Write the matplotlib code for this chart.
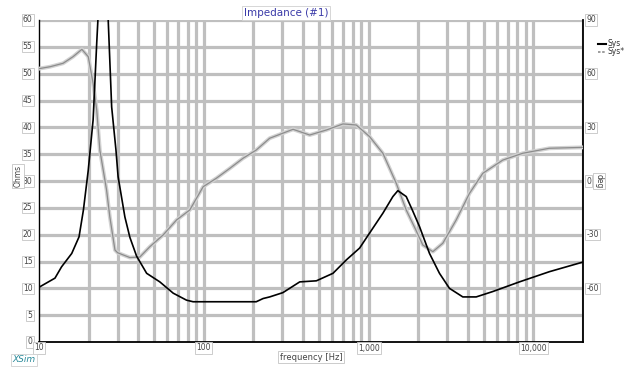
import numpy as np
import matplotlib
matplotlib.use("Agg")
import matplotlib.pyplot as plt
from matplotlib.ticker import NullLocator
from matplotlib.transforms import offset_copy

# Impedance magnitude (Ohms) of the system "Sys"
freq_mag = [10.0, 12.5, 13.7, 15.8, 17.5, 18.6, 19.9, 21.3, 22.4, 24.6, 26.3,
            27.6, 29.3, 30.2, 33.2, 35.6, 39.1, 45.0, 54.1, 65.2, 78.5, 86.1,
            208, 229, 251, 302, 382, 482, 608, 733, 882, 1014, 1221, 1404,
            1505, 1692, 1848, 2037, 2342, 2692, 3095, 3730, 4497, 5667, 8226,
            12500, 20000]
ohms = [10.2, 11.9, 14.0, 16.5, 19.6, 24.6, 32.0, 41.4, 55.7, 80.0, 60.0,
        43.8, 35.8, 30.8, 23.3, 19.5, 16.0, 12.8, 11.2, 9.1, 7.8, 7.5,
        7.5, 8.1, 8.4, 9.2, 11.2, 11.4, 12.8, 15.3, 17.5, 20.3, 24.0, 27.1,
        28.2, 27.1, 24.5, 21.5, 16.5, 12.8, 10.0, 8.4, 8.4, 9.4, 11.2,
        13.1, 14.9]

# Impedance phase (degrees) of "Sys*"
freq_ph = [10.0, 11.7, 14.0, 16.1, 18.2, 19.9, 21.3, 22.4, 23.4, 25.7, 26.9,
           28.9, 30.0, 35.6, 40.9, 47.1, 56.6, 68.3, 82.2, 99.1, 119, 144,
           173, 208, 251, 348, 439, 554, 699, 842, 1014, 1221, 1472, 1692,
           1927, 2133, 2455, 2820, 3400, 4095, 4932, 6521, 8610, 12500, 20000]
phase = [62.8, 63.9, 65.8, 69.5, 73.6, 69.5, 54.6, 39.7, 17.3, -5.0, -20.0,
         -38.6, -40.1, -42.8, -42.5, -36.7, -30.2, -21.8, -16.2, -3.2, 1.5,
         7.1, 12.7, 17.3, 23.9, 28.9, 25.7, 28.5, 31.9, 31.3, 24.8, 15.5,
         -1.3, -16.2, -27.0, -35.8, -39.5, -34.8, -21.8, -6.9, 4.3, 11.7,
         15.5, 18.3, 18.8]

ohm_ticks = [0, 5, 10, 15, 20, 25, 30, 35, 40, 45, 50, 55, 60]
deg_ticks = [-60, -30, 0, 30, 60, 90]
freq_ticks = [10, 100, 1000, 10000]
freq_tick_labels = ["10", "100", "1,000", "10,000"]

W, H = 635, 369
fig = plt.figure(figsize=(W / 100, H / 100), dpi=100)
fig.patch.set_facecolor("white")
left, right, top, bottom = 39, 583, 20, 342
ax = fig.add_axes([left / W, 1 - bottom / H, (right - left) / W, (bottom - top) / H])
ax.set_xscale("log")
ax.set_xlim(10, 20000)
ax.set_ylim(0, 60)

grid_col = "#bfbfbf"
# vertical grid at every 1..9 step of each decade
vgrid = [m * 10 ** d for d in range(1, 5) for m in range(1, 10)]
vgrid = [v for v in vgrid if 10 < v <= 20000]
for v in vgrid:
    ax.axvline(v, color=grid_col, lw=2.3, zorder=1)
for h in ohm_ticks[1:]:
    ax.axhline(h, color=grid_col, lw=2.3, zorder=1)

ax.spines["top"].set_visible(False)
ax.spines["left"].set_color("black")
ax.spines["left"].set_linewidth(1.0)
ax.spines["right"].set_color("black")
ax.spines["right"].set_linewidth(1.3)
ax.spines["bottom"].set_linestyle((0, (1.5, 1)))
ax.spines["bottom"].set_linewidth(1.3)

# phase on its own degree scale
ax2 = ax.twinx()
ax2.set_ylim(-90, 90)
for s in ax2.spines.values():
    s.set_visible(False)
ax2.plot(freq_ph, phase, color="#d2d2d2", lw=2.8, zorder=2, solid_capstyle="round")
ax2.plot(freq_ph, phase, color="#8c8c8c", lw=0.9, zorder=3)

# magnitude drawn on top of the phase
ax3 = ax.twinx()
ax3.set_ylim(0, 60)
for s in ax3.spines.values():
    s.set_visible(False)
ax3.plot(freq_mag, ohms, color="black", lw=1.2, zorder=4)

for a in (ax, ax2, ax3):
    a.xaxis.set_major_locator(NullLocator())
    a.xaxis.set_minor_locator(NullLocator())
    a.yaxis.set_major_locator(NullLocator())
    a.yaxis.set_minor_locator(NullLocator())
ax.set_xlim(10, 20000)

box = dict(boxstyle="square,pad=0.15", fc="white", ec="#c4c4c4", lw=0.6)
tfs = 5.5
for t in ohm_ticks:
    ax.text(-0.012, t, str(t), transform=ax.get_yaxis_transform(),
            ha="right", va="center", fontsize=tfs, color="#444444", bbox=box)
for t in deg_ticks:
    ax2.text(1.006, t, str(t), transform=ax2.get_yaxis_transform(),
             ha="left", va="center", fontsize=tfs, color="#444444", bbox=box)
xlab_tr = offset_copy(ax.get_xaxis_transform(), fig=fig, y=-6, units="dots")
for t, lab in zip(freq_ticks, freq_tick_labels):
    ax.text(t, 0, lab, transform=xlab_tr, ha="center", va="center",
            fontsize=tfs, color="#444444", bbox=box, zorder=6)

fig.text(18 / W, 1 - 176 / H, "Ohms", rotation=90, ha="center", va="center",
         fontsize=5.5, color="#444444", bbox=box)
fig.text(599 / W, 1 - 181 / H, "deg", rotation=-90, ha="center", va="center",
         fontsize=5.5, color="#444444", bbox=box)
fig.text(311 / W, 1 - 357 / H, "frequency [Hz]", ha="center", va="center",
         fontsize=6, color="#444444", bbox=box)
fig.text(286 / W, 1 - 13 / H, "Impedance (#1)", ha="center", va="center",
         fontsize=7.5, color="#3a3aa8",
         bbox=dict(boxstyle="square,pad=0.15", fc="white", ec="#d0d0d0", lw=0.6))
fig.text(24 / W, 1 - 360 / H, "XSim", ha="center", va="center", fontsize=6.5,
         style="italic", color="#2a8a9a", zorder=1,
         bbox=dict(boxstyle="square,pad=0.15", fc="white", ec="#d0d0d0", lw=0.6))

# legend
lg = fig.add_axes([596 / W, 1 - 60 / H, 36 / W, 22 / H])
lg.set_xlim(0, 36)
lg.set_ylim(0, 22)
lg.axis("off")
lg.plot([2, 10], [16, 16], color="black", lw=1.5)
lg.text(12, 16, "Sys", fontsize=5.5, va="center", color="#333333")
lg.plot([2, 10], [8, 8], color="#8c8c8c", lw=1.2, ls=(0, (1.5, 1)))
lg.text(12, 8, "Sys*", fontsize=5.5, va="center", color="#333333")

fig.savefig("out.png", dpi=100)
